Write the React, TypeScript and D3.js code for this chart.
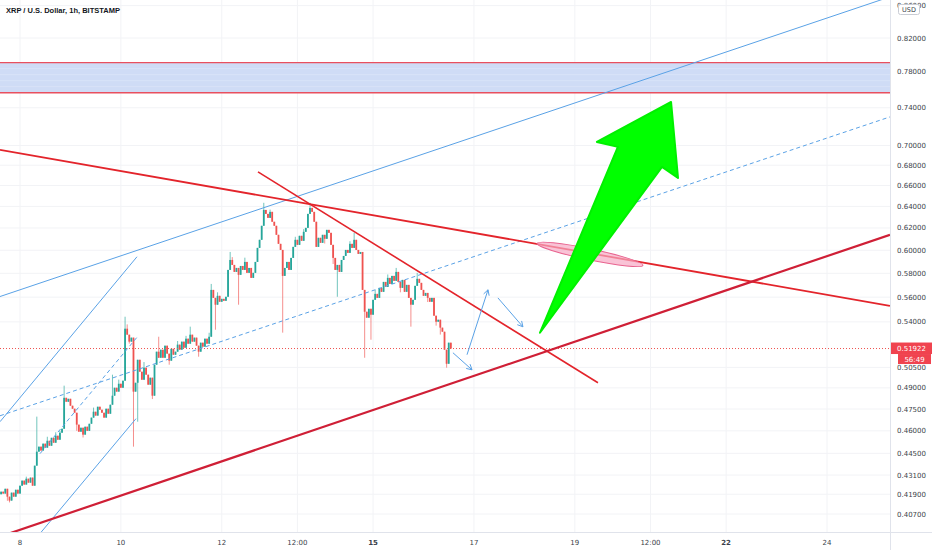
import React from 'react';
import * as d3 from 'd3';

// ---------------- data ----------------
const title = 'XRP / U.S. Dollar, 1h, BITSTAMP';
const currency = 'USD';
// hours are counted from day 8, 00:00
const firstCandleHour = -9;
const firstOpen = 0.419;
const closes: number[] = [
  0.4206, 0.4194, 0.4224, 0.4175, 0.4151, 0.42, 0.4175, 0.4218, 0.4194, 0.4243,
  0.4275, 0.425, 0.4287, 0.4262, 0.4294, 0.4243, 0.437, 0.4461, 0.4494, 0.4468,
  0.4514, 0.4487, 0.4533, 0.45, 0.4553, 0.452, 0.4567, 0.454, 0.4587, 0.4614,
  0.4829, 0.4801, 0.4822, 0.4773, 0.4752, 0.4724, 0.4642, 0.4594, 0.4621, 0.4574,
  0.4628, 0.46, 0.4648, 0.469, 0.4731, 0.4704, 0.4766, 0.4745, 0.4724, 0.469,
  0.4752, 0.4717, 0.478, 0.4844, 0.4901, 0.4873, 0.493, 0.4901, 0.4952, 0.5346,
  0.5299, 0.5245, 0.5276, 0.4873, 0.4937, 0.5107, 0.5018, 0.4959, 0.5048, 0.4996,
  0.4923, 0.4974, 0.4844, 0.507, 0.5168, 0.5122, 0.5183, 0.5122, 0.5214, 0.5153,
  0.51, 0.519, 0.5145, 0.5168, 0.5222, 0.5183, 0.5245, 0.5198, 0.5268, 0.5229,
  0.5299, 0.5245, 0.5276, 0.5214, 0.5168, 0.5237, 0.5206, 0.5268, 0.5229, 0.5283,
  0.566, 0.5594, 0.5538, 0.5611, 0.5562, 0.5586, 0.557, 0.5603, 0.5829, 0.5915,
  0.5872, 0.5812, 0.5846, 0.5787, 0.5863, 0.5829, 0.5898, 0.5804, 0.5846, 0.5761,
  0.5804, 0.5898, 0.6021, 0.6093, 0.622, 0.6367, 0.633, 0.6293, 0.6349, 0.6257,
  0.622, 0.6138, 0.6057, 0.6003, 0.5778, 0.5846, 0.5898, 0.5829, 0.5933, 0.603,
  0.6093, 0.6048, 0.6129, 0.6084, 0.6165, 0.6201, 0.633, 0.6386, 0.6349, 0.6257,
  0.603, 0.6111, 0.6066, 0.6138, 0.6102, 0.6183, 0.6156, 0.6048, 0.5933, 0.5829,
  0.5872, 0.5812, 0.5915, 0.595, 0.6003, 0.5977, 0.6057, 0.6021, 0.6093, 0.6003,
  0.5968, 0.5985, 0.566, 0.5481, 0.5433, 0.5505, 0.5457, 0.5578, 0.5627, 0.5594,
  0.5677, 0.5644, 0.5727, 0.5685, 0.5761, 0.571, 0.5778, 0.5736, 0.5812, 0.5727,
  0.5677, 0.5744, 0.5644, 0.5702, 0.5594, 0.5538, 0.5578, 0.5694, 0.5753, 0.5719,
  0.566, 0.5611, 0.5635, 0.5594, 0.5562, 0.5594, 0.5449, 0.5401, 0.5417, 0.5354,
  0.5322, 0.5183, 0.5077, 0.5237, 0.51922,
];
// [candle index, high, low] for candles with visible wicks
const wicks: [number, number | null, number | null][] = [
  [3, null, 0.415], [4, null, 0.414], [12, 0.43, null], [17, 0.4697, null], [22, 0.456, null],
  [26, 0.459, null], [28, 0.46, null], [30, 0.4916, null], [36, null, 0.46], [39, null, 0.4555],
  [44, 0.476, null], [50, null, 0.472], [53, 0.4996, null], [56, 0.496, null], [59, 0.5441, null],
  [60, 0.538, null], [61, null, 0.523], [63, null, 0.4494], [65, null, 0.4662], [68, 0.509, null],
  [72, null, 0.482], [75, 0.5283, null], [80, null, 0.507], [84, 0.525, null], [88, 0.529, null],
  [90, 0.5362, null], [94, null, 0.513], [99, 0.5314, null], [100, 0.571, null], [102, null, 0.5338],
  [103, 0.564, null], [109, 0.5985, null], [110, 0.594, null], [113, null, 0.5538], [116, 0.5935, null],
  [121, null, 0.586], [125, 0.6434, null], [128, 0.637, null], [134, null, 0.5315], [140, 0.612, null],
  [144, 0.619, null], [147, 0.6434, null], [154, null, 0.606], [158, null, 0.588], [160, null, 0.5603],
  [166, 0.608, null], [168, 0.6156, null], [173, null, 0.5122], [176, null, 0.526], [178, 0.566, null],
  [184, 0.579, null], [188, 0.5846, null], [190, null, 0.564], [195, null, 0.5362], [198, 0.5804, null],
  [203, null, 0.556], [207, null, 0.537], [209, null, 0.53], [212, null, 0.5048],
];
const lastPrice = 0.51922;
const countdown = '56:49';

const xTickLabels = ['8', '10', '12', '12:00', '15', '17', '19', '12:00', '22', '24'];
const xTickHours = [0, 48, 96, 132, 168, 216, 264, 300, 336, 384];
const xTickBold = [false, false, false, false, true, false, false, false, true, false];
const yTicks = [0.86, 0.82, 0.78, 0.74, 0.7, 0.68, 0.66, 0.64, 0.62, 0.6, 0.58, 0.56, 0.54, 0.505, 0.49, 0.475, 0.46, 0.445, 0.431, 0.419, 0.407];

// drawings: anchor points [hour, price]
const resistanceZone = { top: 0.7908, bottom: 0.7566 };
const redTrendLong: [number, number][] = [[-9.52, 0.6955], [413.95, 0.5529]];
const redTrendSteep: [number, number][] = [[113.24, 0.6733], [275.02, 0.4937]];
const redSupport: [number, number][] = [[-9.52, 0.3937], [413.95, 0.6138]];
const bigChannelTop: [number, number][] = [[-9.52, 0.5605], [413.95, 0.8712]];
const bigChannelMid: [number, number][] = [[-9.52, 0.4703], [413.95, 0.7301]];
const smallChannelTop: [number, number][] = [[-9.52, 0.4662], [55.67, 0.5943]];
const smallChannelBottom: [number, number][] = [[7.14, 0.392], [55.19, 0.4683]];
const smallChannelMid: [number, number][] = [[9.52, 0.4448], [55.67, 0.5279]];
const breakoutEllipse: [number, number][] = [[246.0, 0.6061], [296.4, 0.5868]];
const pathArrows: [number, number][][] = [
  [[206.0, 0.516], [215.1, 0.5032]],
  [[212.7, 0.5145], [222.7, 0.5661]],
  [[227.4, 0.5594], [239.3, 0.5361]],
];
const greenArrow: [number, number][] = [
  [247.4, 0.5314], [284.5, 0.6986], [274.5, 0.7037], [309.8, 0.7463],
  [313.1, 0.6674], [305.5, 0.6783],
];

// ---------------- layout ----------------
const W = 932;
const H = 550;
const plotRight = 890;
const plotBottom = 532;
const axisFont = 'DejaVu Sans, Verdana, sans-serif';
const UP = '#26a69a';
const DOWN = '#ef5350';

const x = d3.scaleLinear().domain([0, 384]).range([20, 827]);
const y = d3.scaleLog().domain([0.82, 0.407]).range([38, 514]);

const pt = (a: [number, number]) => [x(a[0]), y(a[1])] as [number, number];

function Seg({ a, stroke, width, dash }: { a: [number, number][]; stroke: string; width: number; dash?: string }) {
  const [p1, p2] = [pt(a[0]), pt(a[1])];
  return <line x1={p1[0]} y1={p1[1]} x2={p2[0]} y2={p2[1]} stroke={stroke} strokeWidth={width} strokeDasharray={dash} />;
}

function Arrow({ a }: { a: [number, number][] }) {
  const [p1, p2] = [pt(a[0]), pt(a[1])];
  const ang = Math.atan2(p2[1] - p1[1], p2[0] - p1[0]);
  const L = 6;
  const h1 = [p2[0] - L * Math.cos(ang - 0.5), p2[1] - L * Math.sin(ang - 0.5)];
  const h2 = [p2[0] - L * Math.cos(ang + 0.5), p2[1] - L * Math.sin(ang + 0.5)];
  return (
    <g stroke="#5aa2e6" strokeWidth={1} fill="none">
      <line x1={p1[0]} y1={p1[1]} x2={p2[0]} y2={p2[1]} />
      <polyline points={`${h1[0]},${h1[1]} ${p2[0]},${p2[1]} ${h2[0]},${h2[1]}`} />
    </g>
  );
}

export default function App() {
  const candles = closes.map((c, i) => {
    const o = i === 0 ? firstOpen : closes[i - 1];
    const w = wicks.find((k) => k[0] === i);
    const hi = Math.max(o, c, w && w[1] != null ? w[1] : 0);
    const lo = Math.min(o, c, w && w[2] != null ? w[2] : 10);
    return { t: firstCandleHour + i, o, c, hi, lo };
  });

  const [e1, e2] = [pt(breakoutEllipse[0]), pt(breakoutEllipse[1])];
  const ec = [(e1[0] + e2[0]) / 2, (e1[1] + e2[1]) / 2];
  const erx = Math.hypot(e2[0] - e1[0], e2[1] - e1[1]) / 2;
  const eang = (Math.atan2(e2[1] - e1[1], e2[0] - e1[0]) * 180) / Math.PI;

  const gPts = greenArrow.map(pt);
  const yTop = y(resistanceZone.top);
  const yBot = y(resistanceZone.bottom);
  const yLast = y(lastPrice);

  return (
    <svg width={W} height={H} style={{ position: 'absolute', left: 0, top: 0, background: '#fff' }}>
      <defs>
        <clipPath id="plot">
          <rect x={0} y={0} width={plotRight} height={plotBottom} />
        </clipPath>
      </defs>
      <rect x={0} y={0} width={W} height={H} fill="#fff" />
      {/* grid */}
      <g stroke="#f2f3f6" strokeWidth={1}>
        {xTickHours.map((h, i) => (
          <line key={'gx' + i} x1={x(h)} x2={x(h)} y1={0} y2={plotBottom} />
        ))}
        {yTicks.map((v, i) => (
          <line key={'gy' + i} x1={0} x2={plotRight} y1={y(v)} y2={y(v)} />
        ))}
      </g>
      <g clipPath="url(#plot)">
        {/* resistance zone */}
        <rect x={0} y={yTop} width={plotRight} height={yBot - yTop} fill="#cfdcf6" />
        {[0.2, 0.4, 0.6, 0.8].map((f) => (
          <line key={f} x1={0} x2={plotRight} y1={yTop + f * (yBot - yTop)} y2={yTop + f * (yBot - yTop)} stroke="#dbe5f9" strokeWidth={0.8} />
        ))}
        <line x1={0} x2={plotRight} y1={yTop} y2={yTop} stroke="#e8505f" strokeWidth={1.4} />
        <line x1={0} x2={plotRight} y1={yBot} y2={yBot} stroke="#e8505f" strokeWidth={1.4} />

        {/* candles */}
        {candles.map((d, i) => {
          const col = d.c >= d.o ? UP : DOWN;
          const cx = x(d.t);
          const yo = y(d.o);
          const yc = y(d.c);
          return (
            <g key={i}>
              <line x1={cx} x2={cx} y1={y(d.hi)} y2={y(d.lo)} stroke={col} strokeOpacity={0.65} strokeWidth={1} />
              <rect x={cx - 0.9} width={1.8} y={Math.min(yo, yc)} height={Math.max(1, Math.abs(yo - yc))} fill={col} />
            </g>
          );
        })}

        {/* current price line */}
        <line x1={0} x2={plotRight} y1={yLast} y2={yLast} stroke="#ef5350" strokeWidth={1} strokeDasharray="1 2" />

        {/* blue channels */}
        <Seg a={bigChannelTop} stroke="#5aa2e6" width={1} />
        <Seg a={bigChannelMid} stroke="#5aa2e6" width={1} dash="4 3" />
        <Seg a={smallChannelTop} stroke="#5aa2e6" width={1} />
        <Seg a={smallChannelBottom} stroke="#5aa2e6" width={1} />
        <Seg a={smallChannelMid} stroke="#5aa2e6" width={1} dash="4 3" />

        {/* red trend lines */}
        <Seg a={redTrendLong} stroke="#e3242b" width={1.8} />
        <Seg a={redTrendSteep} stroke="#e3242b" width={1.6} />
        <Seg a={redSupport} stroke="#cf1f36" width={2.2} />

        {/* ellipse */}
        <ellipse cx={ec[0]} cy={ec[1]} rx={erx} ry={5.5} transform={`rotate(${eang} ${ec[0]} ${ec[1]})`} fill="#f7a9c4" fillOpacity={0.7} stroke="#e8638f" strokeWidth={1} />

        {/* projection arrows */}
        {pathArrows.map((a, i) => (
          <Arrow key={i} a={a} />
        ))}

        {/* big green arrow */}
        <polygon points={gPts.map((p) => p.join(',')).join(' ')} fill="#00ff00" stroke="#00f000" strokeWidth={2} strokeLinejoin="round" />
      </g>

      {/* axes separators */}
      <line x1={plotRight + 0.5} x2={plotRight + 0.5} y1={0} y2={H} stroke="#e0e3eb" />
      <line x1={0} x2={W} y1={plotBottom + 0.5} y2={plotBottom + 0.5} stroke="#e0e3eb" />

      {/* price axis */}
      <g fontFamily={axisFont} fontSize={7} fill="#3b3f4a">
        {yTicks.map((v, i) => (
          <text key={i} x={897} y={y(v) + 2.5}>
            {v.toFixed(5)}
          </text>
        ))}
      </g>
      {/* time axis */}
      <g fontFamily={axisFont} fontSize={7} fill="#3b3f4a" textAnchor="middle">
        {xTickHours.map((h, i) => (
          <text key={i} x={x(h)} y={545} fontWeight={xTickBold[i] ? 'bold' : 'normal'}>
            {xTickLabels[i]}
          </text>
        ))}
      </g>

      {/* last price label */}
      <rect x={891} y={yLast - 6} width={41} height={11.5} fill="#f0434f" />
      <text x={911.5} y={yLast + 2.5} textAnchor="middle" fontFamily={axisFont} fontSize={7} fill="#fff">
        {lastPrice.toFixed(5)}
      </text>
      <rect x={898} y={yLast + 5.5} width={33} height={10} fill="#f0434f" />
      <text x={914.5} y={yLast + 13} textAnchor="middle" fontFamily={axisFont} fontSize={7} fill="#fff">
        {countdown}
      </text>

      {/* currency box */}
      <rect x={898.5} y={4.5} width={21} height={10} rx={2} fill="#fff" stroke="#c9ccd4" />
      <text x={909} y={12} textAnchor="middle" fontFamily={axisFont} fontSize={6.5} fill="#3b3f4a">
        {currency}
      </text>

      {/* title */}
      <text x={6} y={13} fontFamily="Liberation Sans, Arial, sans-serif" fontWeight="bold" fontSize={7.5} fill="#131722">
        {title}
      </text>
    </svg>
  );
}
